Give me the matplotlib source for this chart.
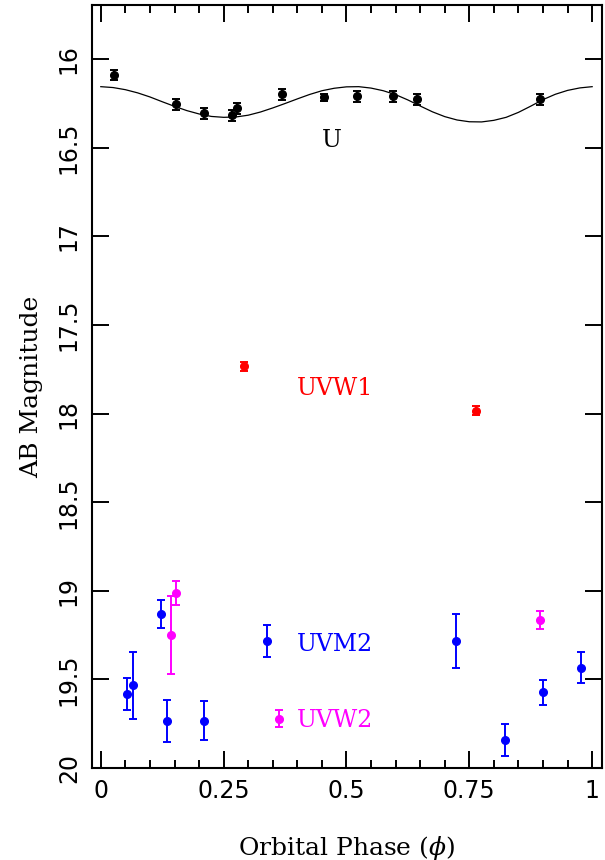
import matplotlib
matplotlib.use("Agg")
import matplotlib.pyplot as plt
from matplotlib.ticker import MultipleLocator

# U band photometry
u_phase = [0.026, 0.153, 0.210, 0.267, 0.277, 0.369, 0.454, 0.521, 0.595, 0.644, 0.894]
u_mag = [16.09, 16.254, 16.305, 16.316, 16.277, 16.198, 16.215, 16.209, 16.209, 16.226, 16.226]
u_err = [0.03, 0.03, 0.03, 0.03, 0.03, 0.03, 0.02, 0.03, 0.03, 0.03, 0.03]

# model light curve
model_phase = [0.000, 0.025, 0.050, 0.075, 0.100, 0.125, 0.150, 0.175, 0.200, 0.225,
               0.250, 0.275, 0.300, 0.325, 0.350, 0.375, 0.400, 0.425, 0.450, 0.475,
               0.500, 0.525, 0.550, 0.575, 0.600, 0.625, 0.650, 0.675, 0.700, 0.725,
               0.750, 0.775, 0.800, 0.825, 0.850, 0.875, 0.900, 0.925, 0.950, 0.975, 1.000]
model_mag = [16.155, 16.160, 16.172, 16.190, 16.213, 16.240, 16.266, 16.290, 16.309, 16.323,
             16.328, 16.326, 16.316, 16.298, 16.275, 16.250, 16.224, 16.199, 16.178, 16.164,
             16.156, 16.155, 16.163, 16.178, 16.200, 16.230, 16.264, 16.297, 16.324, 16.343,
             16.353, 16.354, 16.345, 16.328, 16.300, 16.265, 16.228, 16.198, 16.176, 16.162, 16.155]

# UVW1
w1_phase = [0.291, 0.764]
w1_mag = [17.734, 17.983]
w1_err = [0.025, 0.025]

# UVM2
m2_phase = [0.054, 0.066, 0.122, 0.134, 0.210, 0.338, 0.722, 0.823, 0.899, 0.978]
m2_mag = [19.584, 19.533, 19.132, 19.734, 19.734, 19.283, 19.283, 19.843, 19.572, 19.433]
m2_err = [0.09, 0.19, 0.08, 0.12, 0.11, 0.09, 0.15, 0.09, 0.07, 0.09]

# UVW2
w2_phase = [0.142, 0.153, 0.363, 0.894]
w2_mag = [19.25, 19.013, 19.721, 19.164]
w2_err = [0.22, 0.07, 0.05, 0.05]

plt.rcParams['mathtext.fontset'] = 'dejavuserif'

fig = plt.figure(figsize=(6.05, 8.6), dpi=100)
ax = fig.add_axes([0.152, 0.107, 0.843, 0.887])

ax.plot(model_phase, model_mag, color='black', lw=0.9)

ekw = dict(fmt='o', ms=5.5, elinewidth=1.4, capsize=3, capthick=1.4)
ax.errorbar(u_phase, u_mag, yerr=u_err, color='black', **ekw)
ax.errorbar(w1_phase, w1_mag, yerr=w1_err, color='red', **ekw)
ax.errorbar(m2_phase, m2_mag, yerr=m2_err, color='blue', **ekw)
ax.errorbar(w2_phase, w2_mag, yerr=w2_err, color='magenta', **ekw)

lab = dict(family='DejaVu Serif', fontsize=17, ha='center', va='center')
ax.text(0.47, 16.46, 'U', color='black', **lab)
ax.text(0.477, 17.86, 'UVW1', color='red', **lab)
ax.text(0.477, 19.305, 'UVM2', color='blue', **lab)
ax.text(0.477, 19.73, 'UVW2', color='magenta', **lab)

ax.set_xlim(-0.018, 1.02)
ax.set_ylim(20, 15.695)

ax.xaxis.set_major_locator(MultipleLocator(0.25))
ax.xaxis.set_minor_locator(MultipleLocator(0.05))
ax.yaxis.set_major_locator(MultipleLocator(0.5))
ax.set_xticks([0, 0.25, 0.5, 0.75, 1])
ax.set_xticklabels(['0', '0.25', '0.5', '0.75', '1'])
ax.set_yticks([16, 16.5, 17, 17.5, 18, 18.5, 19, 19.5, 20])
ax.set_yticklabels(['16', '16.5', '17', '17.5', '18', '18.5', '19', '19.5', '20'],
                   rotation=90, va='center')

ax.tick_params(which='both', direction='in', top=True, right=True, width=1.4,
               labelsize=17)
ax.tick_params(which='major', length=12, pad=8)
ax.tick_params(which='minor', length=6)
for s in ax.spines.values():
    s.set_linewidth(1.5)

ax.set_xlabel(r'Orbital Phase ($\phi$)', family='DejaVu Serif', fontsize=18, labelpad=22)
ax.set_ylabel('AB Magnitude', family='DejaVu Serif', fontsize=18, labelpad=10)

fig.savefig('out.png', dpi=100)
